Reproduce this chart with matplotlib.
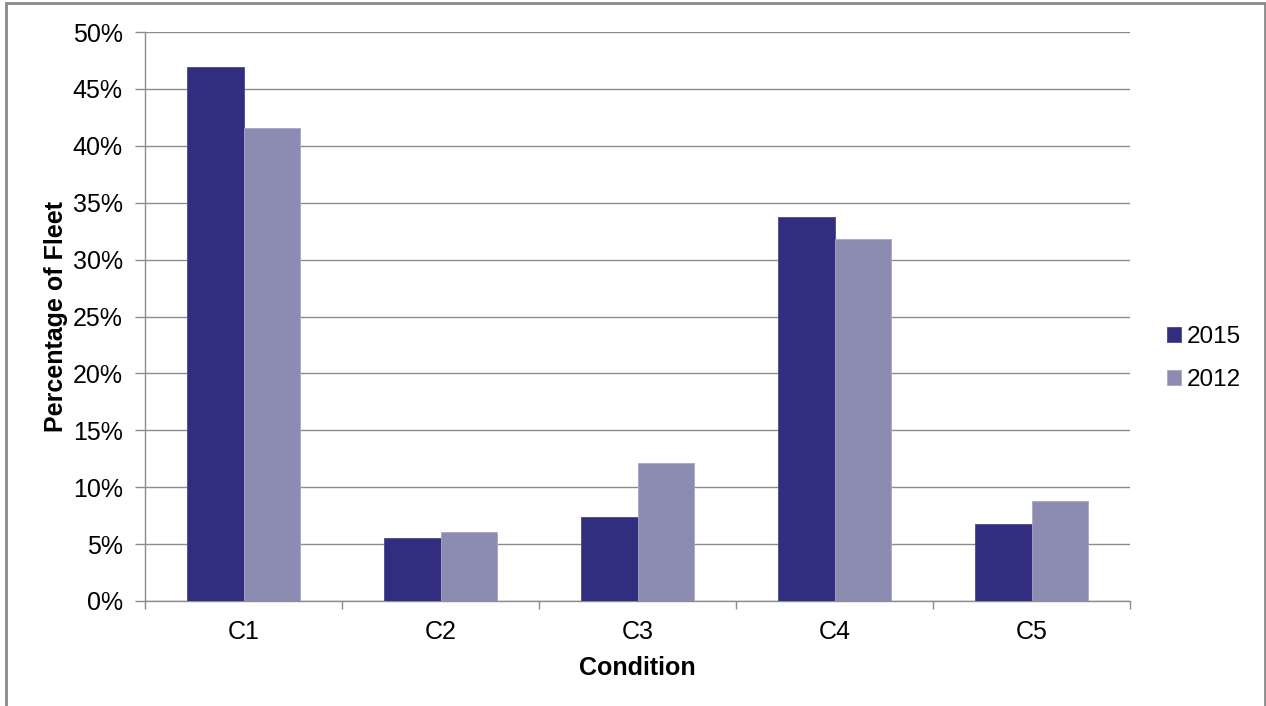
import matplotlib
matplotlib.use("Agg")
import matplotlib.pyplot as plt
import numpy as np
from matplotlib.patches import Rectangle
from matplotlib.ticker import FuncFormatter, MultipleLocator

categories = ["C1", "C2", "C3", "C4", "C5"]
series_names = ["2015", "2012"]
values_2015 = [46.9, 5.5, 7.4, 33.7, 6.8]
values_2012 = [41.6, 6.1, 12.1, 31.8, 8.8]
colors = ["#312E80", "#8C8CB3"]

plt.rcParams['font.family'] = ['Liberation Sans', 'DejaVu Sans']

fig = plt.figure(figsize=(12.66, 7.06), dpi=100)
ax = fig.add_axes([145/1266, 105/706, (1130-145)/1266, (601-32)/706])

x = np.arange(len(categories))
w = 0.287
ax.bar(x - w/2, values_2015, width=w, color=colors[0], label=series_names[0], zorder=3,
       edgecolor="#4a4790", linewidth=0.6)
ax.bar(x + w/2, values_2012, width=w, color=colors[1], label=series_names[1], zorder=3,
       edgecolor="#a5a5c8", linewidth=0.6)

ax.set_xlim(-0.5, len(categories) - 0.5)
ax.set_ylim(0, 50)
ax.yaxis.set_major_locator(MultipleLocator(5))
ax.yaxis.set_major_formatter(FuncFormatter(lambda v, p: f"{int(round(v))}%"))
ax.grid(axis='y', color="#8c8c8c", linewidth=1.0, zorder=0)
ax.set_axisbelow(True)

ax.set_xticks(x)
ax.set_xticklabels(categories)
ax.set_xticks(np.arange(len(categories) + 1) - 0.5, minor=True)
ax.tick_params(axis='x', which='major', length=0, pad=14, labelsize=18)
ax.tick_params(axis='x', which='minor', length=6, color="#8c8c8c", width=1)
ax.tick_params(axis='y', length=7, color="#8c8c8c", width=1, labelsize=18, pad=9)

for s in ["top", "right"]:
    ax.spines[s].set_visible(False)
for s in ["left", "bottom"]:
    ax.spines[s].set_color("#8c8c8c")
    ax.spines[s].set_linewidth(1)

ax.set_ylabel("Percentage of Fleet", fontsize=18, fontweight='bold', labelpad=3.5)
ax.set_xlabel("Condition", fontsize=18, fontweight='bold', labelpad=8)

leg = ax.legend(loc='center left', bbox_to_anchor=(1.028, 0.426), frameon=False,
                fontsize=17.5, handlelength=0.55, handleheight=0.55, handletextpad=0.25,
                labelspacing=0.85, borderaxespad=0)

fig.patches.append(Rectangle((6/1266, -0.05), (1265-6)/1266, (703/706) + 0.05,
                             transform=fig.transFigure, fill=False,
                             edgecolor="#8a8a8a", linewidth=2))

fig.savefig("out.png", dpi=100)
